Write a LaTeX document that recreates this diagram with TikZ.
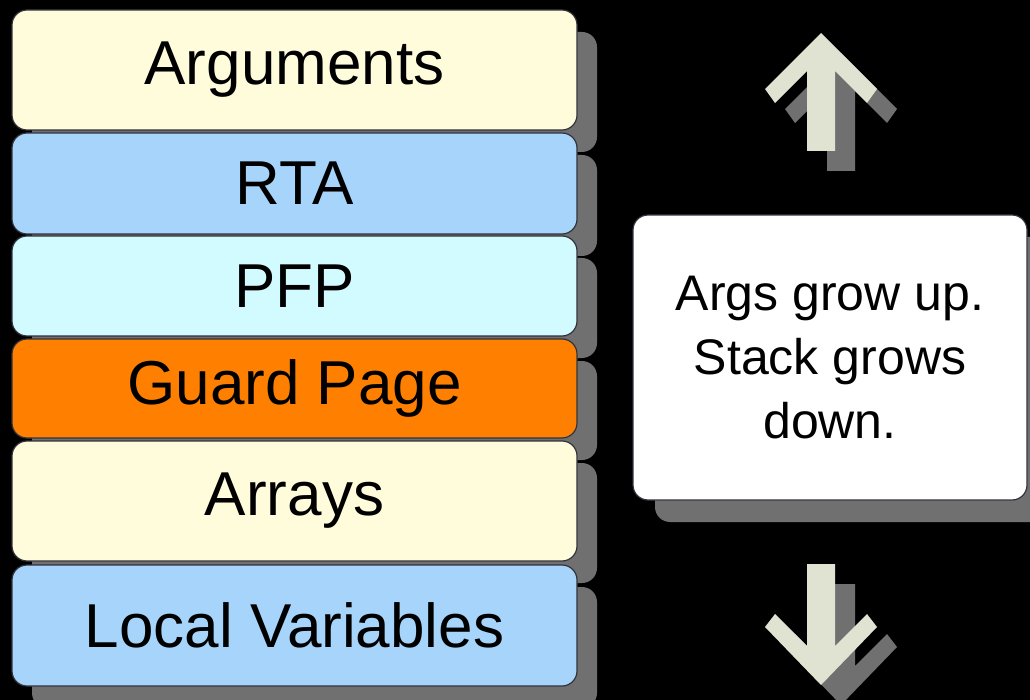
\documentclass[tikz,border=0pt]{standalone}
\usepackage{fontspec}
\setmainfont{Liberation Sans}
\usetikzlibrary{shadows}
\definecolor{bgc}{RGB}{0,0,0}
\definecolor{shadowgray}{RGB}{112,112,112}
\definecolor{yel}{RGB}{255,252,220}
\definecolor{blu}{RGB}{166,212,250}
\definecolor{cya}{RGB}{210,251,255}
\definecolor{ora}{RGB}{255,128,0}
\definecolor{arr}{RGB}{224,227,210}
\definecolor{edge}{RGB}{50,50,60}
\tikzset{
  stk/.style={draw=edge, line width=1.2pt, rounded corners=15pt,
    minimum width=565pt, inner sep=0pt,
    font=\fontsize{62}{74}\selectfont,
    drop shadow={shadow xshift=20pt, shadow yshift=-22pt, fill=shadowgray, opacity=1}},
  note/.style={draw=edge, line width=1.2pt, rounded corners=15pt, fill=white,
    minimum width=394pt, minimum height=285pt, inner sep=0pt, align=center,
    font=\fontsize{50}{64}\selectfont,
    drop shadow={shadow xshift=22pt, shadow yshift=-22pt, fill=shadowgray, opacity=1}},
  arrfill/.style={fill=arr},
  arrshadow/.style={fill=shadowgray}
}
\begin{document}
\begin{tikzpicture}[x=1pt,y=-1pt]
\fill[bgc] (0,0) rectangle (1030,700);
\useasboundingbox (0,0) rectangle (1030,700);
% stack boxes
\node[stk, fill=yel, minimum height=120pt] (args) at (294.5,70) {Arguments};
\node[stk, fill=blu, minimum height=101pt] (rta) at (294.5,183.5) {RTA};
\node[stk, fill=cya, minimum height=100pt] (pfp) at (294.5,286) {PFP};
\node[stk, fill=ora, minimum height=99pt] (guard) at (294.5,388.5) {Guard Page};
\node[stk, fill=yel, minimum height=120pt] (arrays) at (294.5,501) {Arrays};
\node[stk, fill=blu, minimum height=121pt] (locals) at (294.5,625.5) {Local Variables};
% note
\node[note] (txt) at (830,357.5) {Args grow up.\\Stack grows\\down.};
% up arrow
\begin{scope}[shift={(20,20)}]
\fill[arrshadow] (821,33) -- (877,89) -- (867,103) -- (835,71) -- (835,151) -- (807,151) -- (807,71) -- (775,103) -- (765,89) -- cycle;
\end{scope}
\fill[arrfill] (821,33) -- (877,89) -- (867,103) -- (835,71) -- (835,151) -- (807,151) -- (807,71) -- (775,103) -- (765,89) -- cycle;
% down arrow
\begin{scope}[shift={(20,20)}]
\fill[arrshadow] (821,685) -- (877,627) -- (867,614) -- (835,646) -- (835,564) -- (807,564) -- (807,646) -- (775,614) -- (765,627) -- cycle;
\end{scope}
\fill[arrfill] (821,685) -- (877,627) -- (867,614) -- (835,646) -- (835,564) -- (807,564) -- (807,646) -- (775,614) -- (765,627) -- cycle;
\end{tikzpicture}
\end{document}
